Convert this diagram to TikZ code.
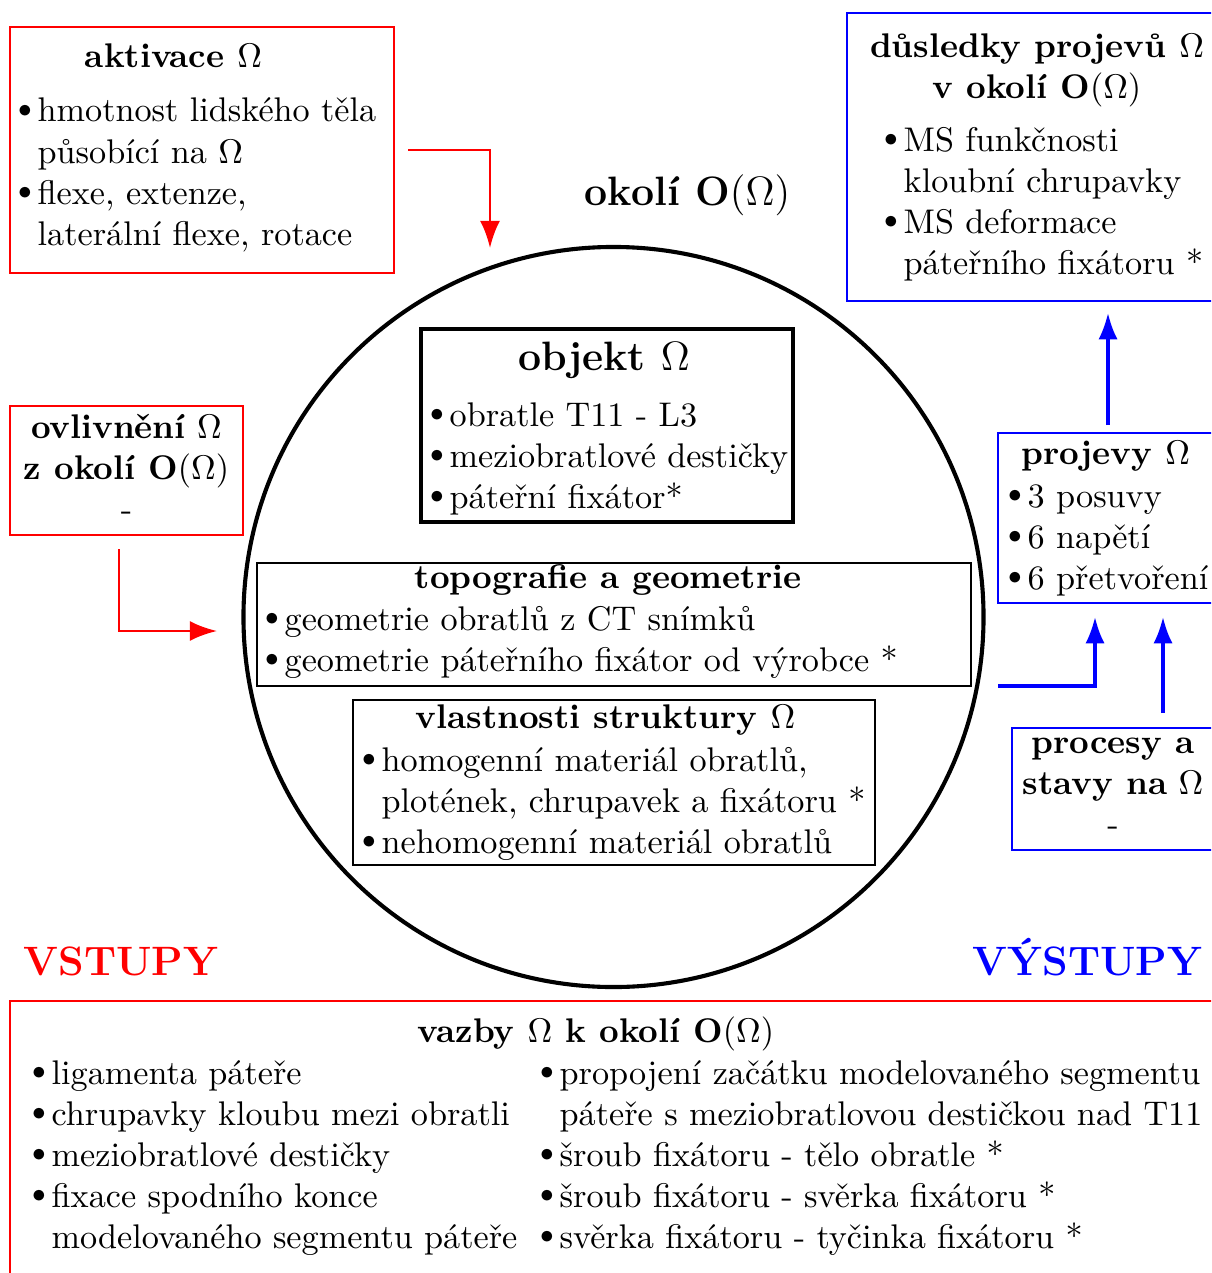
\documentclass[tikz,border=0pt]{standalone}
\usepackage{fontspec}
\usetikzlibrary{arrows.meta,fit}
\newcommand\tbl[1]{\begin{tabular}[t]{@{}l@{}}#1\end{tabular}}
\newcommand\tbc[1]{\begin{tabular}[t]{@{}c@{}}#1\end{tabular}}
\newcommand\bu{\llap{\raisebox{1.4pt}{\scalebox{0.8}{$\bullet$}}\hspace{1.7pt}}}
\newcommand\Om{$\Omega$}
\begin{document}
\begin{tikzpicture}[x=0.2924pt,y=-0.2924pt,
  redbox/.style={draw=red, line width=0.45pt, inner sep=0pt},
  bluebox/.style={draw=blue, line width=0.45pt, inner sep=0pt},
  blackbox/.style={draw=black, line width=0.45pt, inner sep=0pt},
  objbox/.style={draw=black, line width=1pt, inner sep=0pt},
  ttl/.style={anchor=base, inner sep=0pt, font=\bfseries},
  txt/.style={anchor=base west, inner sep=0pt},
  redarr/.style={draw=red, line width=0.8pt, -{Latex[length=7.9pt,width=5.8pt]}},
  bluearr/.style={draw=blue, line width=0.9pt, -{Latex[length=7.7pt,width=5.6pt]}},
]
\clip (0,0) rectangle (1211,1273);
\fill[white] (0,0) rectangle (1211,1273);

% circle
\node[circle, draw, line width=1.2pt, minimum size=216.4pt, inner sep=0pt] (okoli) at (613.5,617) {};
\node[ttl, font=\large\bfseries] (okolittl) at (687.5,205) {okolí O$(\Omega)$};

% aktivace
\node[redbox, fit={(10,27) (394,273)}] (akt) {};
\node[ttl] (aktttl) at (173.5,68) {aktivace \Om};
\node[txt] (akttxt) at (37,122) {\tbl{\bu hmotnost lidského těla\\ působící na \Om\\ \bu flexe, extenze,\\ laterální flexe, rotace}};

% ovlivneni
\node[redbox, fit={(10,406) (243,535)}] (ovl) {};
\node[anchor=base, inner sep=0pt] (ovltxt) at (126.5,438) {\tbc{\textbf{ovlivnění} \Om\\ \textbf{z okolí O}$(\Omega)$\\ -}};

% objekt
\node[objbox, fit={(421,329) (793,522)}] (obj) {};
\node[ttl, font=\large\bfseries] (objttl) at (604,370) {objekt \Om};
\node[txt] (objtxt) at (449,426) {\tbl{\bu obratle T11 - L3\\ \bu meziobratlové destičky\\ \bu páteřní fixátor*}};

% topografie
\node[blackbox, fit={(257,563) (971,686)}] (topo) {};
\node[ttl] (topottl) at (608,588) {topografie a geometrie};
\node[txt] (topotxt) at (284,630) {\tbl{\bu geometrie obratlů z CT snímků\\ \bu geometrie páteřního fixátor od výrobce *}};

% vlastnosti
\node[blackbox, fit={(353,700) (875,865)}] (vlast) {};
\node[ttl] (vlastttl) at (605.5,728) {vlastnosti struktury \Om};
\node[txt] (vlasttxt) at (381,771) {\tbl{\bu homogenní materiál obratlů,\\ plotének, chrupavek a fixátoru *\\ \bu nehomogenní materiál obratlů}};

% dusledky
\node[bluebox, fit={(847,13) (1230,301)}] (dus) {};
\node[anchor=base, inner sep=0pt, font=\bfseries] (dusttl) at (1037,57) {\tbc{důsledky projevů \Om\\ v okolí O$(\Omega)$}};
\node[txt] (dustxt) at (903,151) {\tbl{\bu MS funkčnosti\\ kloubní chrupavky\\ \bu MS deformace\\ páteřního fixátoru *}};

% projevy
\node[bluebox, fit={(998,433) (1230,603)}] (proj) {};
\node[ttl] (projttl) at (1106,464) {projevy \Om};
\node[txt] (projtxt) at (1027,507) {\tbl{\bu 3 posuvy\\ \bu 6 napětí\\ \bu 6 přetvoření}};

% procesy
\node[bluebox, fit={(1012,728) (1230,850)}] (proc) {};
\node[anchor=base, inner sep=0pt] (proctxt) at (1113,753) {\tbc{\textbf{procesy a}\\ \textbf{stavy na} \Om\\ -}};

% labels
\node[anchor=base west, inner sep=0pt, font=\large\bfseries, text=red] (vstupy) at (23,975) {VSTUPY};
\node[anchor=base east, inner sep=0pt, font=\large\bfseries, text=blue] (vystupy) at (1203,975) {VÝSTUPY};

% vazby
\node[redbox, fit={(10,1001) (1230,1300)}] (vaz) {};
\node[ttl] (vazttl) at (596,1042) {vazby \Om\ k okolí O$(\Omega)$};
\node[txt] (vazl) at (51,1084) {\tbl{\bu ligamenta páteře\\ \bu chrupavky kloubu mezi obratli\\ \bu meziobratlové destičky\\ \bu fixace spodního konce\\ modelovaného segmentu páteře}};
\node[txt] (vazr) at (559,1084) {\tbl{\bu propojení začátku modelovaného segmentu\\ páteře s meziobratlovou destičkou nad T11\\ \bu šroub fixátoru - tělo obratle *\\ \bu šroub fixátoru - svěrka fixátoru *\\ \bu svěrka fixátoru - tyčinka fixátoru *}};

% arrows
\coordinate (a1s) at (408,150);
\coordinate (a1e) at (490,248);
\draw[redarr] (a1s) -| (a1e);
\coordinate (a2s) at (119,549);
\coordinate (a2e) at (217,631);
\draw[redarr] (a2s) |- (a2e);
\coordinate (b1s) at (1108,425);
\coordinate (b1e) at (1108,313);
\draw[bluearr] (b1s) -- (b1e);
\coordinate (b2s) at (998,686);
\coordinate (b2e) at (1095,617);
\draw[bluearr] (b2s) -| (b2e);
\coordinate (b3s) at (1163,713);
\coordinate (b3e) at (1163,617);
\draw[bluearr] (b3s) -- (b3e);
\end{tikzpicture}
\end{document}
